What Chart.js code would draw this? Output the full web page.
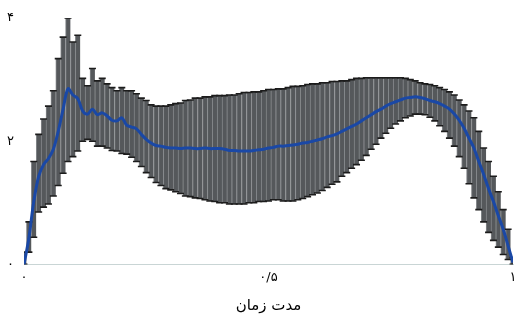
<!DOCTYPE html>
<html>
<head>
<meta charset="utf-8">
<script src="https://cdn.jsdelivr.net/npm/chart.js@4"></script>
<style>
  html, body { margin: 0; padding: 0; background: #ffffff; }
  #wrap { width: 522px; height: 324px; position: relative; }
</style>
</head>
<body>
<div id="wrap"><canvas id="chart"></canvas></div>
<script>
// Mean curve and the lower / upper ends of each error bar, one sample every 0.01 of normalised time
const meanValues = [
  0.00, 0.43, 1.02, 1.43, 1.62, 1.72, 1.87, 2.16, 2.52, 2.85,
  2.75, 2.69, 2.49, 2.44, 2.52, 2.43, 2.46, 2.41, 2.34, 2.33,
  2.38, 2.26, 2.23, 2.20, 2.11, 2.03, 1.97, 1.93, 1.92, 1.90,
  1.89, 1.89, 1.88, 1.89, 1.89, 1.88, 1.88, 1.89, 1.88, 1.88,
  1.88, 1.87, 1.85, 1.85, 1.84, 1.84, 1.84, 1.85, 1.86, 1.87,
  1.89, 1.90, 1.92, 1.92, 1.93, 1.94, 1.95, 1.97, 1.98, 2.00,
  2.02, 2.04, 2.07, 2.09, 2.12, 2.16, 2.20, 2.24, 2.28, 2.33,
  2.38, 2.43, 2.48, 2.52, 2.57, 2.61, 2.64, 2.67, 2.70, 2.71,
  2.72, 2.71, 2.69, 2.66, 2.64, 2.61, 2.57, 2.52, 2.44, 2.34,
  2.21, 2.05, 1.89, 1.67, 1.46, 1.23, 1.02, 0.79, 0.57, 0.30,
  0.03
];
const upperValues = [
  0.20, 0.69, 1.67, 2.11, 2.36, 2.57, 2.82, 3.34, 3.69, 4.00,
  3.61, 3.72, 3.02, 2.90, 3.18, 2.98, 3.02, 2.93, 2.87, 2.82,
  2.87, 2.82, 2.82, 2.77, 2.70, 2.66, 2.59, 2.57, 2.57, 2.57,
  2.59, 2.61, 2.62, 2.66, 2.67, 2.70, 2.70, 2.72, 2.72, 2.74,
  2.74, 2.74, 2.75, 2.75, 2.77, 2.79, 2.79, 2.80, 2.80, 2.82,
  2.84, 2.84, 2.85, 2.85, 2.87, 2.89, 2.89, 2.90, 2.92, 2.93,
  2.93, 2.95, 2.95, 2.97, 2.97, 2.98, 2.98, 3.00, 3.02, 3.02,
  3.03, 3.03, 3.03, 3.03, 3.03, 3.03, 3.03, 3.03, 3.02, 3.00,
  2.98, 2.95, 2.93, 2.92, 2.90, 2.87, 2.84, 2.80, 2.75, 2.67,
  2.59, 2.49, 2.38, 2.16, 1.89, 1.67, 1.43, 1.18, 0.89, 0.57,
  0.11
];
const lowerValues = [
  0.00, 0.20, 0.44, 0.85, 0.93, 0.98, 1.11, 1.28, 1.48, 1.67,
  1.75, 1.84, 2.00, 2.03, 2.00, 1.92, 1.92, 1.89, 1.85, 1.84,
  1.80, 1.79, 1.74, 1.67, 1.59, 1.49, 1.41, 1.33, 1.28, 1.23,
  1.21, 1.18, 1.15, 1.11, 1.10, 1.08, 1.07, 1.05, 1.03, 1.02,
  1.00, 1.00, 0.98, 0.98, 0.98, 0.98, 1.00, 1.00, 1.02, 1.02,
  1.03, 1.05, 1.05, 1.03, 1.03, 1.03, 1.05, 1.07, 1.10, 1.13,
  1.16, 1.20, 1.25, 1.30, 1.34, 1.43, 1.49, 1.56, 1.62, 1.69,
  1.77, 1.87, 1.95, 2.05, 2.13, 2.21, 2.28, 2.33, 2.38, 2.41,
  2.44, 2.44, 2.43, 2.39, 2.33, 2.25, 2.16, 2.05, 1.92, 1.75,
  1.56, 1.31, 1.08, 0.89, 0.69, 0.52, 0.39, 0.28, 0.16, 0.08,
  0.00
];
const sampleStep = 0.01;

const xTickValues = [0, 0.5, 1];
const xTickLabels = ['۰', '۰/۵', '۱'];
const yTickValues = [0, 2, 4];
const yTickLabels = ['۰', '۲', '۴'];
const xAxisTitle = 'مدت زمان';

// Sample positions along the normalised time axis
const times = meanValues.map((_, i) => +(i * sampleStep).toFixed(2));
const rangePoints = times.map((t, i) => ({ x: t, y: [lowerValues[i], upperValues[i]] }));
const upperPoints = times.map((t, i) => ({ x: t, y: upperValues[i] }));
const lowerPoints = times.map((t, i) => ({ x: t, y: lowerValues[i] }));
const meanPoints = times.map((t, i) => ({ x: t, y: meanValues[i] }));

const labelFont = { family: "'DejaVu Sans', 'Noto Sans', sans-serif", size: 13 };

function tickLabel(values, labels) {
  return (v) => {
    const k = values.findIndex(a => Math.abs(a - v) < 1e-9);
    return k >= 0 ? labels[k] : '';
  };
}

// Short horizontal caps at both ends of every error bar
const capStyle = {
  type: 'line',
  showLine: false,
  pointStyle: 'line',
  pointRadius: 3.5,
  pointHoverRadius: 3.5,
  pointBorderColor: '#1c1c1c',
  pointBorderWidth: 1.6,
  order: 2
};

new Chart(document.getElementById('chart'), {
  type: 'line',
  data: {
    datasets: [
      {
        label: 'mean',
        type: 'line',
        data: meanPoints,
        borderColor: '#1a48a6',
        borderWidth: 3,
        pointRadius: 0,
        tension: 0.35,
        fill: false,
        order: 0
      },
      Object.assign({ label: 'upper', data: upperPoints }, capStyle),
      Object.assign({ label: 'lower', data: lowerPoints }, capStyle),
      {
        label: 'range',
        type: 'bar',
        data: rangePoints,
        backgroundColor: '#55585b',
        borderColor: '#85888b',
        borderWidth: { left: 1, right: 0, top: 0, bottom: 0 },
        borderSkipped: false,
        barThickness: 4.9,
        grouped: false,
        order: 3
      }
    ]
  },
  options: {
    responsive: true,
    maintainAspectRatio: false,
    devicePixelRatio: 1,
    animation: false,
    events: [],
    layout: { padding: { left: 7, right: 9, top: 18, bottom: 7 } },
    plugins: { legend: { display: false }, tooltip: { enabled: false } },
    scales: {
      x: {
        type: 'linear',
        min: 0,
        max: 1,
        offset: false,
        grid: { display: false, drawTicks: false },
        border: { display: true, color: '#c9d5d5', width: 1 },
        afterBuildTicks: (s) => { s.ticks = xTickValues.map(v => ({ value: v })); },
        ticks: {
          padding: 5,
          color: '#000000',
          font: labelFont,
          maxRotation: 0,
          autoSkip: false,
          callback: tickLabel(xTickValues, xTickLabels)
        },
        title: {
          display: true,
          text: xAxisTitle,
          color: '#000000',
          font: { family: "'DejaVu Sans', 'Noto Sans', sans-serif", size: 15 },
          padding: { top: 7, bottom: 2 }
        }
      },
      y: {
        type: 'linear',
        min: 0,
        max: 4,
        grid: { display: false, drawTicks: false },
        border: { display: false },
        afterBuildTicks: (s) => { s.ticks = yTickValues.map(v => ({ value: v })); },
        afterFit: (s) => { s.width = 17; },
        ticks: {
          padding: 4,
          crossAlign: 'far',
          color: '#000000',
          font: labelFont,
          callback: tickLabel(yTickValues, yTickLabels)
        }
      }
    }
  }
});
</script>
</body>
</html>
